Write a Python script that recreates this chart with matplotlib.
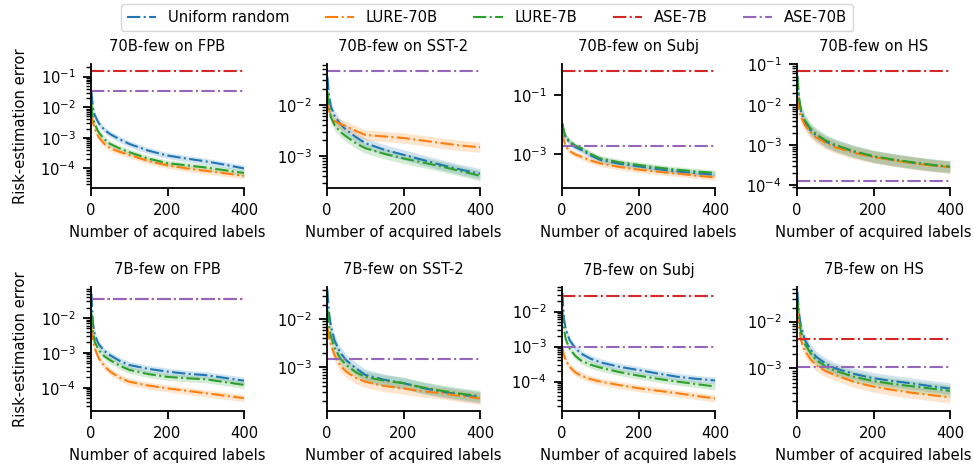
import numpy as np
import matplotlib
matplotlib.use("Agg")
import matplotlib.pyplot as plt
from matplotlib.ticker import LogLocator, NullLocator, FixedLocator

# acquired-label counts at which the curves are read
n_labels = [1, 5, 10, 20, 35, 50, 75, 100, 150, 200, 250, 300, 350, 400]

titles = ["70B-few on FPB", "70B-few on SST-2", "70B-few on Subj", "70B-few on HS",
          "7B-few on FPB", "7B-few on SST-2", "7B-few on Subj", "7B-few on HS"]

series_names = ["Uniform random", "LURE-70B", "LURE-7B"]
baseline_names = ["ASE-7B", "ASE-70B"]

# log10 of risk-estimation error, per panel
uniform_log = [
    [-1.48, -2.0, -2.27, -2.52, -2.74, -2.88, -3.05, -3.2, -3.42, -3.58, -3.68, -3.77, -3.88, -4.0],
    [-1.45, -1.8, -2.03, -2.22, -2.38, -2.49, -2.63, -2.75, -2.88, -2.98, -3.08, -3.18, -3.27, -3.35],
    [-2.0, -2.28, -2.45, -2.62, -2.77, -2.86, -3.05, -3.2, -3.33, -3.42, -3.51, -3.59, -3.65, -3.7],
    [-1.31, -1.85, -2.16, -2.42, -2.63, -2.77, -2.92, -3.02, -3.17, -3.29, -3.37, -3.44, -3.5, -3.55],
    [-1.3, -2.15, -2.49, -2.75, -2.95, -3.07, -3.23, -3.35, -3.46, -3.54, -3.6, -3.64, -3.72, -3.8],
    [-1.39, -1.85, -2.15, -2.45, -2.7, -2.85, -3.02, -3.16, -3.26, -3.33, -3.43, -3.51, -3.57, -3.63],
    [-1.47, -2.2, -2.52, -2.82, -3.05, -3.2, -3.35, -3.45, -3.58, -3.67, -3.77, -3.86, -3.92, -3.97],
    [-1.36, -1.8, -2.1, -2.38, -2.6, -2.75, -2.9, -3.0, -3.12, -3.21, -3.27, -3.32, -3.38, -3.43],
]
lure70b_log = [
    [-2.2, -2.5, -2.72, -2.98, -3.2, -3.34, -3.46, -3.56, -3.76, -3.9, -4.0, -4.08, -4.16, -4.24],
    [-1.9, -2.1, -2.23, -2.32, -2.38, -2.42, -2.51, -2.59, -2.62, -2.65, -2.7, -2.75, -2.8, -2.83],
    [-2.24, -2.55, -2.75, -2.9, -3.02, -3.09, -3.22, -3.32, -3.44, -3.53, -3.6, -3.66, -3.73, -3.79],
    [-1.8, -2.15, -2.3, -2.5, -2.68, -2.81, -2.95, -3.06, -3.2, -3.3, -3.38, -3.45, -3.51, -3.55],
    [-2.26, -2.65, -2.88, -3.15, -3.38, -3.54, -3.71, -3.83, -3.94, -4.02, -4.09, -4.16, -4.23, -4.3],
    [-2.15, -2.38, -2.53, -2.75, -2.97, -3.09, -3.22, -3.3, -3.39, -3.44, -3.5, -3.54, -3.6, -3.65],
    [-3.0, -3.25, -3.4, -3.58, -3.74, -3.83, -3.93, -4.0, -4.1, -4.19, -4.26, -4.33, -4.41, -4.48],
    [-1.75, -2.1, -2.39, -2.62, -2.8, -2.93, -3.06, -3.14, -3.29, -3.39, -3.46, -3.52, -3.57, -3.62],
]
lure7b_log = [
    [-1.9, -2.35, -2.56, -2.82, -3.05, -3.2, -3.35, -3.47, -3.68, -3.83, -3.9, -3.97, -4.06, -4.15],
    [-1.74, -2.02, -2.24, -2.4, -2.53, -2.62, -2.75, -2.85, -2.96, -3.05, -3.13, -3.21, -3.3, -3.39],
    [-1.96, -2.24, -2.41, -2.58, -2.72, -2.8, -3.0, -3.15, -3.28, -3.37, -3.46, -3.53, -3.59, -3.64],
    [-1.28, -1.82, -2.12, -2.38, -2.59, -2.73, -2.89, -3.0, -3.16, -3.28, -3.36, -3.43, -3.49, -3.54],
    [-1.87, -2.4, -2.69, -2.92, -3.1, -3.21, -3.37, -3.49, -3.61, -3.69, -3.73, -3.76, -3.84, -3.92],
    [-1.8, -2.12, -2.36, -2.6, -2.82, -2.95, -3.1, -3.2, -3.28, -3.33, -3.42, -3.49, -3.55, -3.6],
    [-1.95, -2.5, -2.8, -3.06, -3.27, -3.4, -3.52, -3.6, -3.73, -3.83, -3.92, -4.0, -4.07, -4.14],
    [-1.54, -1.92, -2.21, -2.47, -2.67, -2.82, -2.96, -3.05, -3.18, -3.27, -3.33, -3.38, -3.43, -3.48],
]
# half-width of shaded band (log10 decades), per panel
band_halfwidth = [0.1, 0.1, 0.1, 0.15, 0.1, 0.12, 0.1, 0.12]

# constant baselines (None = not shown)
ase7b = [0.156, None, 0.66, 0.069, 0.036, None, 0.027, 4.3e-3]
ase70b = [0.034, 0.047, 1.8e-3, 1.26e-4, 0.035, 1.47e-3, 1.0e-3, 1.07e-3]

# y-limits (log10)
ylims_log = [(-4.64, -0.59), (-3.63, -1.2), (-4.15, 0.04), (-4.07, -0.99),
             (-4.67, -1.11), (-3.91, -1.33), (-4.84, -1.3), (-3.91, -1.26)]

colors = ["#1f77b4", "#ff7f0e", "#2ca02c", "#d62728", "#9467bd"]
FS = 10.6

fig = plt.figure(figsize=(9.74, 4.67), dpi=100)
W, H = 974, 467
col_left = [91, 327, 562, 797]
ax_w = 153
row_top = [64, 287]
ax_h = 124

x = np.array(n_labels)
handles = []
for i in range(8):
    r, c = divmod(i, 4)
    ax = fig.add_axes([col_left[c] / W, 1 - (row_top[r] + ax_h) / H, ax_w / W, ax_h / H])
    ax.set_yscale("log")
    hw = band_halfwidth[i]
    for j, (arr, name) in enumerate(zip([uniform_log[i], lure70b_log[i], lure7b_log[i]], series_names)):
        y = np.array(arr)
        ax.fill_between(x, 10 ** (y - hw), 10 ** (y + hw), color=colors[j], alpha=0.2, linewidth=0)
        h, = ax.plot(x, 10 ** y, linestyle="-.", color=colors[j], lw=1.5, label=name)
        if i == 0:
            handles.append(h)
    for k, (vals, name) in enumerate(zip([ase7b, ase70b], baseline_names)):
        v = vals[i]
        h, = ax.plot([0, 400], [v, v] if v is not None else [np.nan, np.nan],
                     linestyle="-.", color=colors[3 + k], lw=1.5, label=name)
        if i == 0:
            handles.append(h)
    ax.set_xlim(0, 400)
    ax.set_ylim(10 ** ylims_log[i][0], 10 ** ylims_log[i][1])
    ax.set_xticks([0, 200, 400])
    if i == 2:
        ax.yaxis.set_major_locator(FixedLocator([1e-1, 1e-3]))
        ax.yaxis.set_minor_locator(NullLocator())
    else:
        ax.yaxis.set_major_locator(LogLocator(base=10, numticks=10))
        ax.yaxis.set_minor_locator(LogLocator(base=10, subs=np.arange(2, 10) * 1.0, numticks=10))
    ax.spines["top"].set_visible(False)
    ax.spines["right"].set_visible(False)
    for s in ("left", "bottom"):
        ax.spines[s].set_linewidth(1.3)
    ax.set_title(titles[i], fontsize=FS, pad=9)
    ax.set_xlabel("Number of acquired labels", fontsize=FS, labelpad=5)
    if c == 0:
        ax.set_ylabel("Risk-estimation error", fontsize=FS, labelpad=9)
    ax.tick_params(which="major", labelsize=FS, length=6, width=1.3, pad=5)
    ax.tick_params(which="minor", length=3.5, width=1.0)

fig.legend(handles=handles, labels=series_names + baseline_names, loc="upper center",
           bbox_to_anchor=(0.5, 1.0), ncol=5, fontsize=FS, columnspacing=2.4,
           frameon=True, borderaxespad=0.3)

fig.savefig("out.png", dpi=100)
